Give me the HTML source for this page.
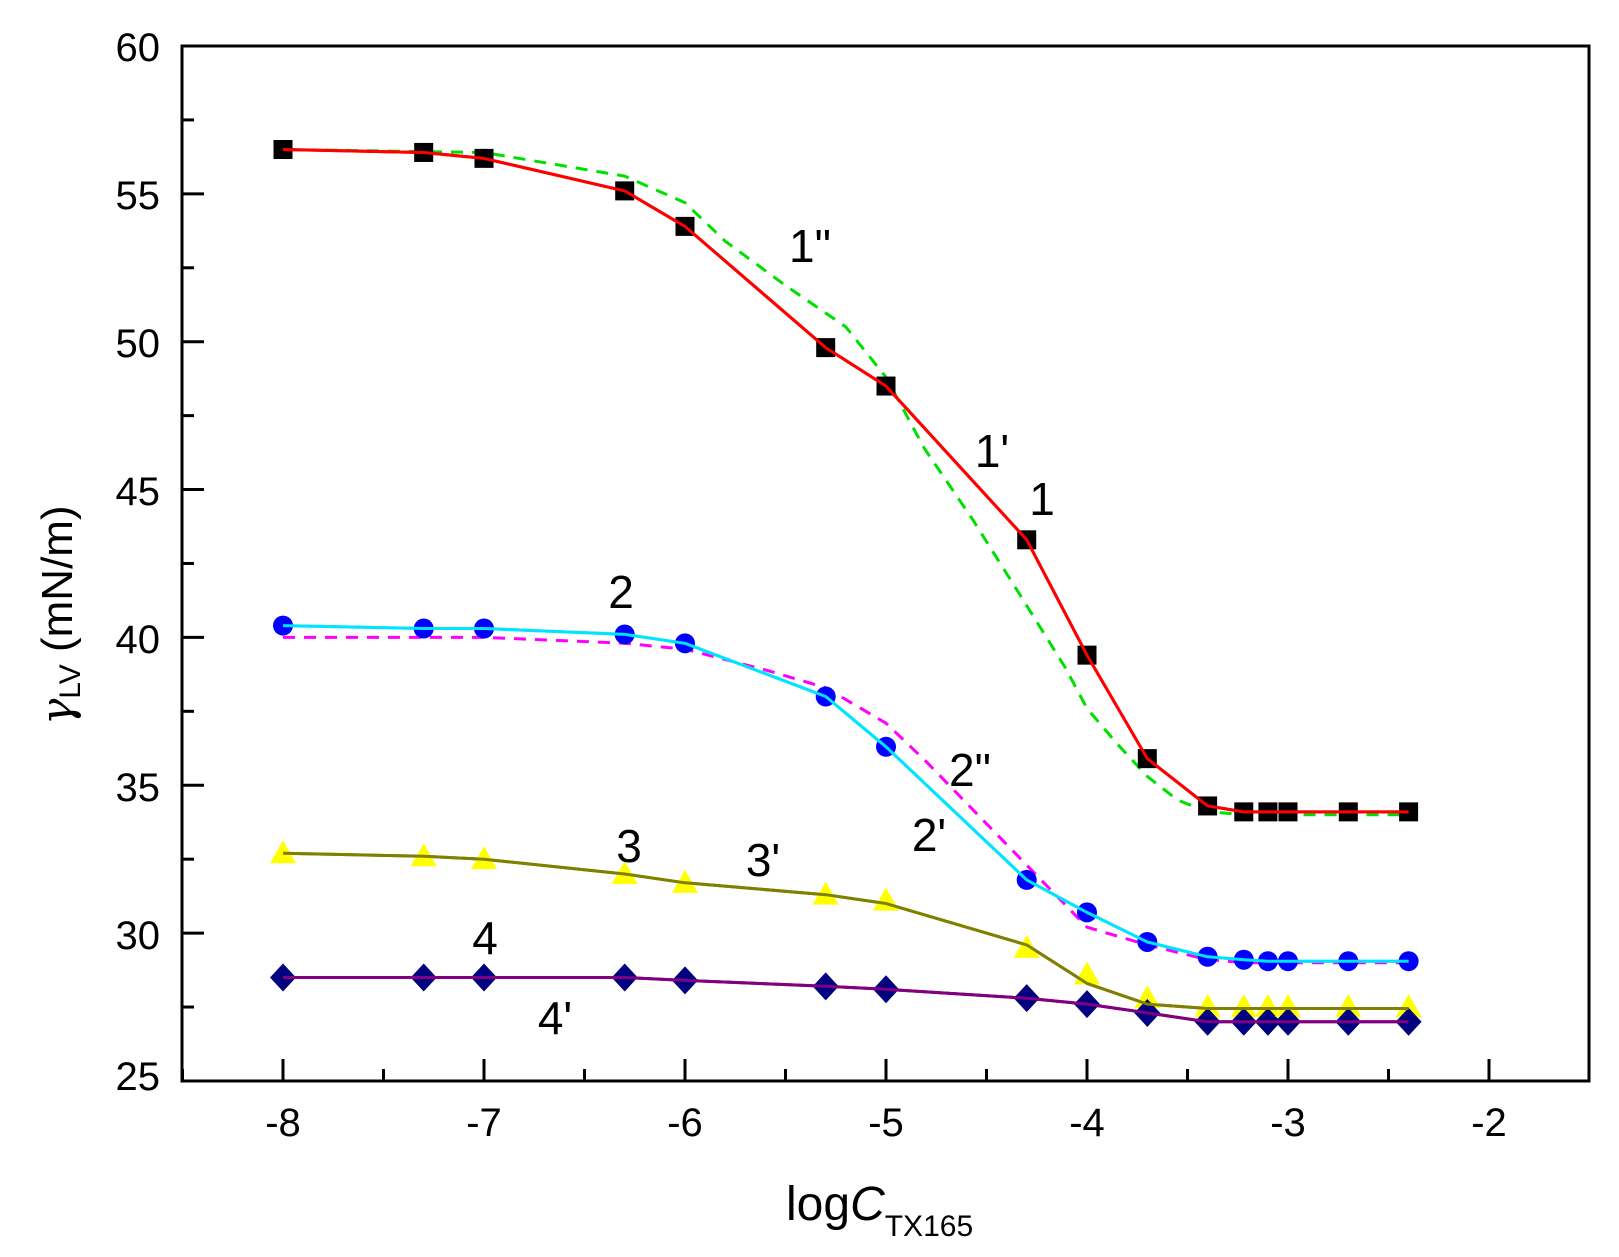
<!DOCTYPE html>
<html><head><meta charset="utf-8"><style>
html,body{margin:0;padding:0;background:#fff;}
svg{display:block;}
text{font-family:"Liberation Sans",Arial,sans-serif;fill:#000;}
</style></head><body>
<svg id="s" width="1619" height="1257" viewBox="0 0 1619 1257" xmlns="http://www.w3.org/2000/svg">
<rect width="1619" height="1257" fill="#fff"/>
<g id="plot"></g>
<rect x="182" y="46" width="1407" height="1035" fill="none" stroke="#000" stroke-width="3"/>
<g font-size="40" text-anchor="end">
<text x="160" y="61">60</text>
<text x="160" y="209">55</text>
<text x="160" y="357">50</text>
<text x="160" y="505">45</text>
<text x="160" y="653">40</text>
<text x="160" y="801">35</text>
<text x="160" y="949">30</text>
<text x="160" y="1090">25</text>
</g>
<g font-size="40" text-anchor="middle">
<text x="283" y="1136">-8</text>
<text x="484" y="1136">-7</text>
<text x="685" y="1136">-6</text>
<text x="886" y="1136">-5</text>
<text x="1087" y="1136">-4</text>
<text x="1288" y="1136">-3</text>
<text x="1489" y="1136">-2</text>
</g>
<text x="786" y="1220" font-size="48">log<tspan font-style="italic">C</tspan><tspan font-size="30" dy="16">TX165</tspan></text>
<text transform="translate(72,725) rotate(-90)" font-size="44"><tspan font-style="italic" font-family="DejaVu Serif, serif">γ</tspan><tspan font-size="30" dy="8">LV</tspan><tspan dy="-8"> (mN/m)</tspan></text>
<g font-size="46" text-anchor="middle">
<text x="810" y="262">1"</text>
<text x="992" y="467">1'</text>
<text x="1042" y="515">1</text>
<text x="621" y="608">2</text>
<text x="970" y="786">2"</text>
<text x="929" y="851">2'</text>
<text x="629" y="862">3</text>
<text x="763" y="876">3'</text>
<text x="485" y="954">4</text>
<text x="555" y="1034">4'</text>
</g>
</svg>
<script>
var NS="http://www.w3.org/2000/svg",g=document.getElementById("plot");
function X(v){return 283+(v+8)*201;}
function Y(v){return 46+(60-v)*29.57;}
function el(t,a){var e=document.createElementNS(NS,t);for(var k in a)e.setAttribute(k,a[k]);g.appendChild(e);return e;}
for(var v=-8.5;v<=-1.9;v+=0.5){var maj=Math.abs(v-Math.round(v))<0.01;el("line",{x1:X(v),x2:X(v),y1:1081,y2:1081-(maj?22:12),stroke:"#000","stroke-width":3});}
for(var v=25;v<=60;v+=2.5){var maj=(v%5)==0;el("line",{x1:182,x2:182+(maj?22:12),y1:Y(v),y2:Y(v),stroke:"#000","stroke-width":3});}
var xs=[-8,-7.3,-7,-6.3,-6,-5.3,-5,-4.3,-4,-3.7,-3.4,-3.22,-3.1,-3,-2.7,-2.4];
function pl(px,py,col,dash){var p=[];for(var i=0;i<px.length;i++)p.push(X(px[i]).toFixed(1)+","+Y(py[i]).toFixed(1));var a={points:p.join(" "),fill:"none",stroke:col,"stroke-width":3,"stroke-linejoin":"round"};if(dash)a["stroke-dasharray"]="12,9";el("polyline",a);}
var y1=[56.5,56.4,56.2,55.1,53.9,49.8,48.5,43.3,39.4,35.9,34.3,34.1,34.1,34.1,34.1,34.1];
var y2=[40.4,40.3,40.3,40.1,39.8,38.0,36.3,31.8,30.7,29.7,29.2,29.1,29.05,29.05,29.05,29.05];
var y3=[32.7,32.6,32.5,32.0,31.7,31.3,31.1,29.5,28.6,27.8,27.5,27.5,27.5,27.5,27.5,27.5];
var l3=[32.7,32.6,32.5,32.0,31.7,31.3,31.0,29.6,28.3,27.6,27.45,27.45,27.45,27.45,27.45,27.45];
var y4=[28.5,28.5,28.5,28.5,28.4,28.2,28.1,27.8,27.6,27.3,27.0,27.0,27.0,27.0,27.0,27.0];
pl([-8,-7,-6.3,-6,-5.8,-5.5,-5.2,-5,-4.81,-4.57,-4.33,-4.11,-4,-3.85,-3.7,-3.55,-3.4,-3.2,-2.4],[56.5,56.4,55.6,54.7,53.4,51.9,50.5,48.8,46.4,44.0,41.4,39.0,37.6,36.4,35.3,34.5,34.1,34.0,34.0],"#00e000",true);
pl([-8,-7,-6.3,-6,-5.6,-5.3,-5,-4.8,-4.6,-4.3,-4,-3.7,-3.4,-3.2,-2.4],[40.0,40.0,39.8,39.6,38.9,38.3,37.1,35.8,34.4,32.3,30.2,29.6,29.1,29.0,29.0],"#ff00ff",true);
pl(xs,y1,"#ff0000",false);
pl(xs,y2,"#00e5ff",false);
pl(xs,l3,"#808000",false);
pl(xs,y4,"#800080",false);
for(var i=0;i<xs.length;i++){var x=X(xs[i]);
 var y=Y(y3[i]);el("polygon",{points:(x)+","+(y-13)+" "+(x-13)+","+(y+10)+" "+(x+13)+","+(y+10),fill:"#ffff00"});
 y=Y(y4[i]);el("polygon",{points:x+","+(y-14)+" "+(x+13)+","+y+" "+x+","+(y+14)+" "+(x-13)+","+y,fill:"#000080"});
 y=Y(y2[i]);el("circle",{cx:x,cy:y,r:10,fill:"#0000ff"});
 y=Y(y1[i]);el("rect",{x:x-9.5,y:y-9.5,width:19,height:19,fill:"#000"});
}
pl(xs,y1,"#ff0000",false);pl(xs,y2,"#00e5ff",false);pl(xs,l3,"#808000",false);pl(xs,y4,"#800080",false);
</script>
</body></html>
